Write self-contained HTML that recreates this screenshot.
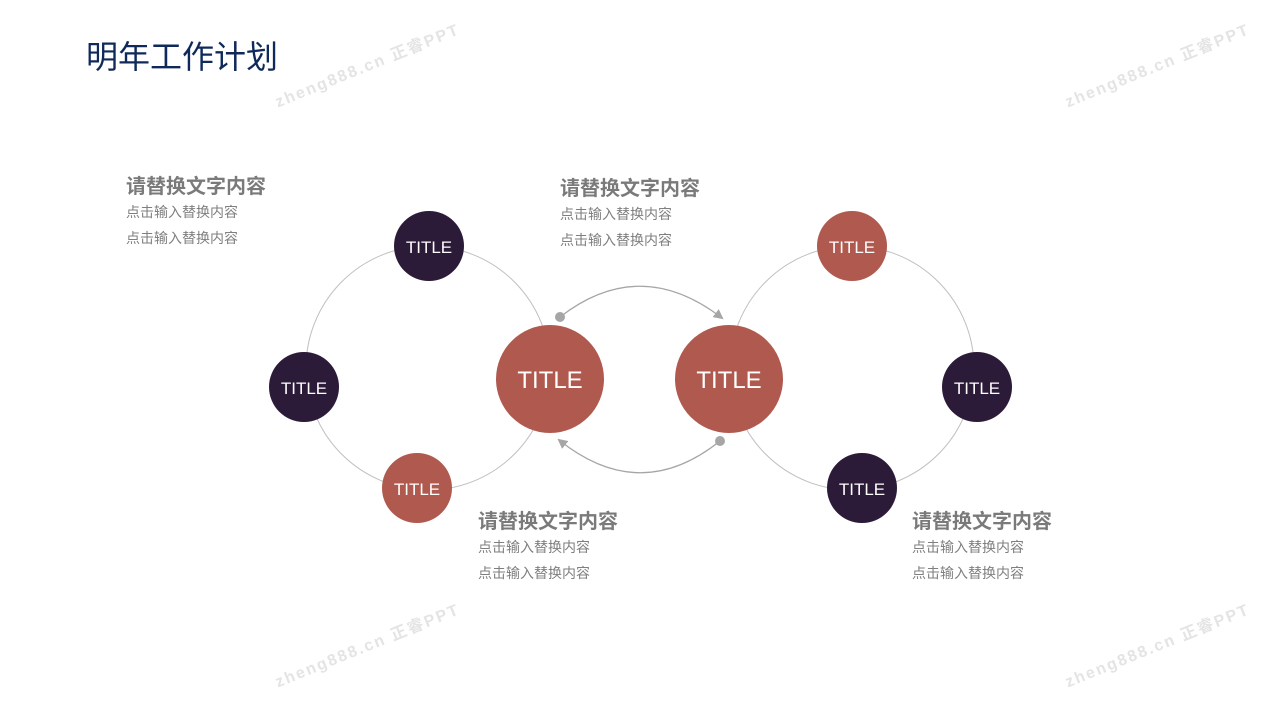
<!DOCTYPE html>
<html><head><meta charset="utf-8"><style>
body{margin:0;width:1280px;height:720px;background:#fff;overflow:hidden;font-family:"Liberation Sans","Noto Sans CJK SC",sans-serif;position:relative}
.t{position:absolute;color:#7f7f7f}
.h{font-size:20px;font-weight:bold;color:#7a7a7a}
.s{font-size:14px;line-height:26px;color:#7f7f7f}
.wm{position:absolute;font-size:16px;font-weight:bold;color:#e4e4e4;transform:rotate(-22deg);letter-spacing:2px;white-space:nowrap}
</style></head><body>
<div class="t" style="left:86px;top:32px;font-size:32px;color:#0f2a5a">明年工作计划</div>
<div class="wm" style="left:268px;top:52px">zheng888.cn 正睿PPT</div>
<div class="wm" style="left:1058px;top:52px">zheng888.cn 正睿PPT</div>
<div class="wm" style="left:268px;top:632px">zheng888.cn 正睿PPT</div>
<div class="wm" style="left:1058px;top:632px">zheng888.cn 正睿PPT</div>
<svg width="1280" height="720" style="position:absolute;left:0;top:0">
<defs><marker id="a" markerWidth="10" markerHeight="10" refX="8" refY="5" orient="auto" markerUnits="userSpaceOnUse"><path d="M0,0 L10,5 L0,10 z" fill="#a6a6a6"/></marker></defs>
<circle cx="428" cy="368" r="122" fill="none" stroke="#bfbfbf" stroke-width="1"/>
<circle cx="852" cy="368" r="122" fill="none" stroke="#bfbfbf" stroke-width="1"/>
<path d="M560,317 Q640,255 722,318" fill="none" stroke="#a6a6a6" stroke-width="1.3" marker-end="url(#a)"/>
<circle cx="560" cy="317" r="5" fill="#a6a6a6"/>
<path d="M720,441 Q640,505 559,440" fill="none" stroke="#a6a6a6" stroke-width="1.3" marker-end="url(#a)"/>
<circle cx="720" cy="441" r="5" fill="#a6a6a6"/>
<g font-family="Liberation Sans,sans-serif" fill="#fff" text-anchor="middle">
<circle cx="550" cy="379" r="54" fill="#b05a4f"/><text x="550" y="388" font-size="24">TITLE</text>
<circle cx="729" cy="379" r="54" fill="#b05a4f"/><text x="729" y="388" font-size="24">TITLE</text>
<circle cx="429" cy="246" r="35" fill="#2b1a38"/><text x="429" y="253" font-size="17">TITLE</text>
<circle cx="304" cy="387" r="35" fill="#2b1a38"/><text x="304" y="394" font-size="17">TITLE</text>
<circle cx="417" cy="488" r="35" fill="#b05a4f"/><text x="417" y="495" font-size="17">TITLE</text>
<circle cx="852" cy="246" r="35" fill="#b05a4f"/><text x="852" y="253" font-size="17">TITLE</text>
<circle cx="977" cy="387" r="35" fill="#2b1a38"/><text x="977" y="394" font-size="17">TITLE</text>
<circle cx="862" cy="488" r="35" fill="#2b1a38"/><text x="862" y="495" font-size="17">TITLE</text>
</g></svg>
<div class="t" style="left:126px;top:170px"><div class="h">请替换文字内容</div><div class="s">点击输入替换内容<br>点击输入替换内容</div></div>
<div class="t" style="left:560px;top:172px"><div class="h">请替换文字内容</div><div class="s">点击输入替换内容<br>点击输入替换内容</div></div>
<div class="t" style="left:478px;top:505px"><div class="h">请替换文字内容</div><div class="s">点击输入替换内容<br>点击输入替换内容</div></div>
<div class="t" style="left:912px;top:505px"><div class="h">请替换文字内容</div><div class="s">点击输入替换内容<br>点击输入替换内容</div></div>
</body></html>
